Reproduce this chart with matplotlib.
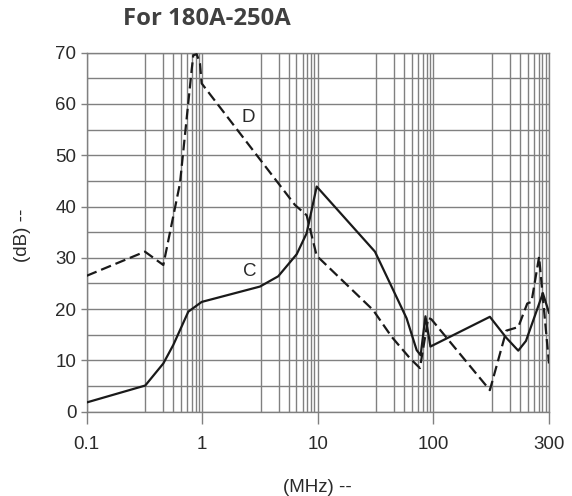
import numpy as np
import matplotlib
matplotlib.use("Agg")
import matplotlib.pyplot as plt
from matplotlib.ticker import FixedLocator, FixedFormatter, NullFormatter, MultipleLocator

# ---- data ----
d_freq = [0.1, 0.319, 0.46, 0.641, 0.809, 0.836, 0.895, 0.955, 0.988, 6.34, 8.0, 9.77,
          30.1, 43.5, 62.7, 76.4, 90.2, 96.1, 171, 200, 224, 244, 254, 273, 300]
d_db = [26.5, 31.2, 28.6, 44.5, 66.6, 69.5, 69.7, 67.9, 64.0, 40.3, 38.3, 30.4,
        19.8, 14.6, 10.4, 8.5, 18.3, 18.0, 4.2, 15.8, 16.5, 21.1, 21.4, 30.2, 9.4]

c_freq = [0.1, 0.321, 0.46, 0.561, 0.757, 0.988, 3.16, 4.54, 6.56, 8.0, 9.77,
          31.2, 44.9, 58.6, 71.6, 77.5, 85.3, 94.2, 171, 200, 224, 241, 283, 300]
c_db = [1.8, 5.1, 9.4, 13.0, 19.5, 21.4, 24.4, 26.4, 30.7, 34.8, 43.9,
        31.2, 23.7, 18.2, 12.0, 11.0, 18.6, 12.7, 18.5, 14.4, 11.9, 13.8, 23.1, 19.3]

x_ticks = [0.1, 1, 10, 100, 300]
x_tick_labels = ["0.1", "1", "10", "100", "300"]
y_ticks = [0, 10, 20, 30, 40, 50, 60, 70]
# minor grid positions, as fractions of each (chart) decade
minor_fracs = [0.504, 0.66, 0.748, 0.815, 0.868, 0.91, 0.942, 0.97]


def fwd(x):
    x = np.asarray(x, dtype=float)
    lx = np.log10(np.clip(x, 1e-12, None))
    return np.where(lx <= 2, lx + 1, 3 + (lx - 2) / np.log10(3))


def inv(u):
    u = np.asarray(u, dtype=float)
    return np.where(u <= 3, 10 ** (u - 1), 100 * 3 ** (u - 3))


grid_c = "#808080"
txt_c = "#2a2a2a"
line_c = "#1a1a1a"

fig = plt.figure(figsize=(5.72, 4.96), dpi=100)
ax = fig.add_axes([0.1516, 0.170, 0.8082, 0.7238])
ax.set_xscale("function", functions=(fwd, inv))
ax.set_xlim(0.1, 300)
ax.set_ylim(0, 70)

ax.plot(c_freq, c_db, color=line_c, lw=1.6, zorder=3)
ax.plot(d_freq, d_db, color=line_c, lw=1.6, ls=(0, (4.8, 2.2)), zorder=3)

ax.xaxis.set_major_locator(FixedLocator(x_ticks))
ax.xaxis.set_major_formatter(FixedFormatter(x_tick_labels))
minor_vals = [float(inv(k + f)) for k in range(4) for f in minor_fracs]
ax.xaxis.set_minor_locator(FixedLocator(minor_vals))
ax.xaxis.set_minor_formatter(NullFormatter())
ax.yaxis.set_major_locator(FixedLocator(y_ticks))
ax.yaxis.set_minor_locator(MultipleLocator(5))

ax.grid(True, which="both", color=grid_c, lw=1.0)
ax.set_axisbelow(True)
for s in ax.spines.values():
    s.set_color(grid_c)
    s.set_linewidth(1.0)

ax.tick_params(axis="x", which="major", length=8.5, width=1.0, color=grid_c,
               pad=9, labelsize=13.5, labelcolor=txt_c)
ax.tick_params(axis="y", which="major", length=4.5, width=1.0, color=grid_c,
               pad=3, labelsize=13.5, labelcolor=txt_c)
ax.tick_params(which="minor", length=0)
for lab in ax.get_xticklabels() + ax.get_yticklabels():
    lab.set_family(["Liberation Sans", "DejaVu Sans"])

ax.set_xlabel("(MHz) --", fontsize=13.5, color=txt_c, va="center",
              family=["Liberation Sans", "DejaVu Sans"])
ax.xaxis.set_label_coords(0.498, -0.2125)
ax.set_ylabel("(dB) --", fontsize=13.5, color=txt_c, va="center",
              family=["Liberation Sans", "DejaVu Sans"])
ax.yaxis.set_label_coords(-0.138, 0.492)

ax.text(2.5, 57.3, "D", fontsize=13.5, color=txt_c, ha="center", va="center",
        family=["Liberation Sans", "DejaVu Sans"])
ax.text(2.6, 27.3, "C", fontsize=13.5, color=txt_c, ha="center", va="center",
        family=["Liberation Sans", "DejaVu Sans"])

fig.text(123 / 572, 1 - 19 / 496, "For 180A-250A", ha="left", va="center",
         fontsize=17.2, fontweight="bold", color="#404040",
         family=["Open Sans", "DejaVu Sans"])

fig.savefig("out.png", dpi=100)
